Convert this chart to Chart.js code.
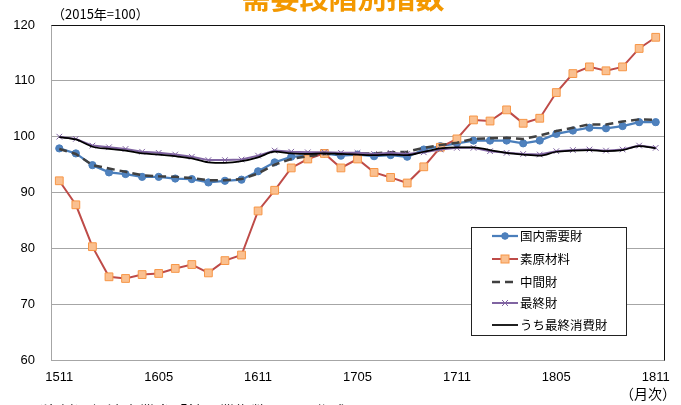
<!DOCTYPE html>
<html><head><meta charset="utf-8">
<script src="https://cdn.jsdelivr.net/npm/chart.js@4/dist/chart.umd.min.js"></script>
<style>
html,body{margin:0;padding:0;background:#fff;}
#wrap{position:relative;width:681px;height:405px;overflow:hidden;font-family:"Noto Sans CJK JP","Liberation Sans",sans-serif;color:#000;}
#c{position:absolute;left:0;top:0;}
.t{position:absolute;white-space:nowrap;}
#title{left:0;width:686px;text-align:center;top:-18px;font-size:29px;line-height:29px;font-weight:bold;color:#f39800;}
#unit{left:52px;top:5px;font-size:13px;line-height:17px;}
#month{left:620px;top:384px;font-size:14px;line-height:18px;}
#note{left:27px;top:401px;font-size:16px;line-height:20px;}
#legend{position:absolute;left:471px;top:227px;width:156px;height:109px;border:1px solid #222;background:#fff;box-sizing:border-box;}
.li{position:absolute;left:20px;height:20px;font-size:12.5px;line-height:20px;}
.li svg{position:absolute;left:0;top:0;}
.li span{position:absolute;left:28px;top:0;white-space:nowrap;}
</style></head>
<body>
<div id="wrap">
<canvas id="c" width="681" height="405"></canvas>
<div class="t" id="title">需要段階別指数</div>
<div class="t" id="unit">（2015年=100）</div>
<div class="t" id="month">（月次）</div>
<div class="t" id="note">（資料）経済産業省「鉱工業指数」より作成</div>
<div id="legend"></div>
</div>
<script>
const months = ['1511','1512','1601','1602','1603','1604','1605','1606','1607','1608','1609','1610','1611','1612',
'1701','1702','1703','1704','1705','1706','1707','1708','1709','1710','1711','1712',
'1801','1802','1803','1804','1805','1806','1807','1808','1809','1810','1811'];
const seriesNames = ['国内需要財','素原材料','中間財','最終財','うち最終消費財'];
const domestic = [97.9,97.0,94.9,93.6,93.3,92.8,92.8,92.5,92.4,91.8,92.1,92.3,93.8,95.4,96.4,96.6,97.0,96.6,96.8,96.5,96.7,96.4,97.7,98.3,98.8,99.3,99.3,99.3,98.8,99.3,100.5,101.1,101.6,101.5,101.9,102.6,102.6];
const rawMaterials = [92.1,87.8,80.3,74.9,74.6,75.3,75.5,76.4,77.1,75.6,77.8,78.8,86.7,90.4,94.4,96.0,97.0,94.4,96.0,93.6,92.7,91.7,94.6,98.1,99.6,103.0,102.8,104.8,102.4,103.3,107.9,111.3,112.5,111.8,112.5,115.8,117.8];
const intermediate = [97.8,96.9,94.9,94.3,93.7,93.1,92.9,92.8,92.6,92.2,92.2,92.4,93.4,95.0,96.0,96.5,96.9,96.9,97.0,97.0,97.2,97.3,98.0,98.5,98.9,99.6,99.7,99.8,99.6,100.2,101.0,101.6,102.2,102.2,102.7,103.1,103.0];
const finalGoods = [100.0,99.6,98.4,98.1,97.8,97.3,97.1,96.8,96.4,95.8,95.8,95.9,96.6,97.5,97.3,97.2,97.2,97.1,97.1,96.9,97.1,96.9,97.2,97.7,98.0,98.0,97.4,97.1,96.9,96.8,97.4,97.6,97.7,97.5,97.7,98.4,98.0];
const consumerGoods = [99.9,99.5,98.2,97.8,97.5,97.0,96.8,96.5,96.1,95.4,95.3,95.6,96.3,97.3,97.0,96.9,97.0,96.9,96.8,96.7,96.8,96.7,97.3,97.9,98.1,98.1,97.6,97.1,96.8,96.6,97.3,97.5,97.6,97.4,97.6,98.3,97.9];
const yTicks = [60,70,80,90,100,110,120];

const borderPlugin = {
  id:'plotBorder',
  afterDatasetsDraw(chart){
    const a = chart.chartArea, ctx = chart.ctx;
    ctx.save();
    ctx.strokeStyle = '#111'; ctx.lineWidth = 1;
    ctx.beginPath();
    ctx.moveTo(Math.round(a.left)+0.5, Math.round(a.top)+0.5);
    ctx.lineTo(Math.round(a.right)+0.5, Math.round(a.top)+0.5);
    ctx.lineTo(Math.round(a.right)+0.5, Math.round(a.bottom)+0.5);
    ctx.stroke();
    ctx.restore();
  }
};

const datasets = [
  {label:seriesNames[0], data:domestic, borderColor:'#4a7ebb', borderWidth:2.25, pointStyle:'circle', pointRadius:3.6,
   pointBackgroundColor:'#4f81bd', pointBorderColor:'#4a7ebb', pointBorderWidth:1, order:5},
  {label:seriesNames[1], data:rawMaterials, borderColor:'#be4b48', borderWidth:2, pointStyle:'rect', pointRadius:5.5,
   pointBackgroundColor:'#fac090', pointBorderColor:'#f79646', pointBorderWidth:1, order:4},
  {label:seriesNames[2], data:intermediate, borderColor:'#404040', borderWidth:2.5, borderDash:[8,5], pointRadius:0, order:3},
  {label:seriesNames[3], data:finalGoods, borderColor:'#8064a2', borderWidth:2, pointStyle:'crossRot', pointRadius:4,
   pointBorderColor:'#8064a2', pointBorderWidth:1, order:2},
  {label:seriesNames[4], data:consumerGoods, borderColor:'#000', borderWidth:1.75, pointRadius:0, cubicInterpolationMode:'monotone', order:1}
];

new Chart(document.getElementById('c'), {
  type:'line',
  data:{labels:months, datasets:datasets},
  options:{
    responsive:false, animation:false,
    layout:{padding:{top:25,right:17,left:0,bottom:0}},
    plugins:{legend:{display:false}, tooltip:{enabled:false}},
    scales:{
      x:{type:'category', offset:true,
         grid:{display:false, drawTicks:false},
         border:{color:'#a6a6a6', width:1},
         ticks:{autoSkip:false, maxRotation:0, minRotation:0, padding:10, color:'#000',
                font:{family:'Liberation Sans', size:13},
                callback:(v,i)=> (i%6===0 ? months[i] : '')},
         afterFit:(s)=>{ s.height = 45; }},
      y:{min:60, max:120,
         afterBuildTicks:(s)=>{ s.ticks = yTicks.map(v=>({value:v})); },
         grid:{color:'#a6a6a6', lineWidth:1, drawTicks:false},
         border:{color:'#a6a6a6', width:1},
         ticks:{padding:16, color:'#000', font:{family:'Liberation Sans', size:13}},
         afterFit:(s)=>{ s.width = 51; }}
    }
  },
  plugins:[borderPlugin]
});

// legend (HTML)
const lg = document.getElementById('legend');
const rows = [8, 31, 53.5, 75, 97];
const samples = [
  '<line x1="0" y1="10" x2="26" y2="10" stroke="#4a7ebb" stroke-width="2.25"/><circle cx="13" cy="10" r="3.3" fill="#4f81bd" stroke="#4a7ebb"/>',
  '<line x1="0" y1="10" x2="26" y2="10" stroke="#be4b48" stroke-width="2"/><rect x="9" y="6" width="8" height="8" fill="#fac090" stroke="#f79646"/>',
  '<line x1="0" y1="10" x2="26" y2="10" stroke="#404040" stroke-width="2.5" stroke-dasharray="8,5"/>',
  '<line x1="0" y1="10" x2="26" y2="10" stroke="#8064a2" stroke-width="2"/><path d="M10 7 L16 13 M16 7 L10 13" stroke="#8064a2" stroke-width="1"/>',
  '<line x1="0" y1="10" x2="26" y2="10" stroke="#000" stroke-width="1.75"/>'
];
seriesNames.forEach((n,i)=>{
  const d = document.createElement('div');
  d.className = 'li';
  d.style.top = (rows[i]-10)+'px';
  d.innerHTML = '<svg width="27" height="20">'+samples[i]+'</svg><span>'+n+'</span>';
  lg.appendChild(d);
});
</script>
</body></html>
